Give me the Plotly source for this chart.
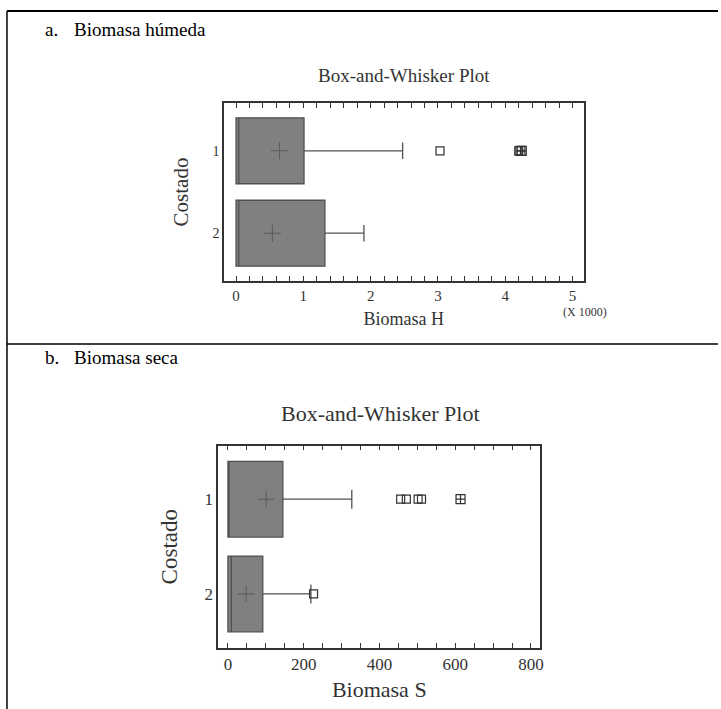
import plotly.graph_objects as go

W, H = 721, 709

# ---------------- data ----------------
categories = ["1", "2"]

# a. Biomasa húmeda (units: biomass, axis shown X 1000)
h_q1 = [0, 0]
h_median = [40, 40]
h_q3 = [1010, 1320]
h_lowerfence = [0, 0]
h_upperfence = [2475, 1900]
h_mean = [646, 540]
h_out_x = [3030, 4200]
h_out_cat = ["1", "1"]
h_far_x = [4225, 4245]
h_far_cat = ["1", "1"]

# b. Biomasa seca
s_q1 = [0, 0]
s_median = [0, 9]
s_q3 = [145, 92]
s_lowerfence = [0, 0]
s_upperfence = [327, 219]
s_mean = [101, 48]
s_out_x = [456, 471, 502, 511, 226]
s_out_cat = ["1", "1", "1", "1", "2"]
s_far_x = [614]
s_far_cat = ["1"]

FONT = "Liberation Serif"
BOXFILL = "#808080"
BOXLINE = "#505050"
DARK = "#333333"


def px(x):
    return x / W


def py(y):
    return 1 - y / H


fig = go.Figure()


def add_panel(xa, ya, q1, med, q3, lf, uf, mean, ox, oc, fx, fc):
    fig.add_trace(go.Box(
        y=categories, q1=q1, median=med, q3=q3, lowerfence=lf, upperfence=uf,
        orientation="h", width=0.8, whiskerwidth=0.25,
        fillcolor=BOXFILL, line=dict(color=BOXLINE, width=1.3),
        boxpoints=False, showlegend=False, xaxis=xa, yaxis=ya,
    ))
    fig.add_trace(go.Scatter(
        x=mean, y=categories, mode="markers", showlegend=False,
        marker=dict(symbol="cross-thin-open", size=12, color="#5a5a5a",
                    line=dict(color="#5a5a5a", width=1)),
        xaxis=xa, yaxis=ya,
    ))
    fig.add_trace(go.Scatter(
        x=ox, y=oc, mode="markers", showlegend=False,
        marker=dict(symbol="square-open", size=8, color=DARK,
                    line=dict(color=DARK, width=1.2)),
        xaxis=xa, yaxis=ya,
    ))
    fig.add_trace(go.Scatter(
        x=fx, y=fc, mode="markers", showlegend=False,
        marker=dict(symbol="square-cross-open", size=9, color=DARK,
                    line=dict(color=DARK, width=1.2)),
        xaxis=xa, yaxis=ya,
    ))


add_panel("x", "y", h_q1, h_median, h_q3, h_lowerfence, h_upperfence, h_mean,
          h_out_x, h_out_cat, h_far_x, h_far_cat)
add_panel("x2", "y2", s_q1, s_median, s_q3, s_lowerfence, s_upperfence, s_mean,
          s_out_x, s_out_cat, s_far_x, s_far_cat)

common_x = dict(
    showline=True, linecolor=DARK, linewidth=1.5, mirror="allticks",
    ticks="inside", ticklen=5, tickcolor=DARK, tickwidth=1.2,
    showgrid=False, zeroline=False,
    tickfont=dict(family=FONT, color=DARK),
)
common_y = dict(
    showline=True, linecolor=DARK, linewidth=1.5, mirror=True,
    ticks="", showgrid=False, zeroline=False, type="category",
    tickfont=dict(family=FONT, color=DARK),
)

fig.update_layout(
    width=W, height=H, margin=dict(l=0, r=0, t=0, b=0),
    paper_bgcolor="white", plot_bgcolor="white",
    xaxis=dict(**common_x, domain=[px(225), px(586)], anchor="y",
               range=[-178, 5163], tickvals=[0, 1000, 2000, 3000, 4000, 5000],
               ticktext=["0", "1", "2", "3", "4", "5"],
               minor=dict(dtick=200, ticks="inside", ticklen=5, tickcolor=DARK, tickwidth=1.2),
               tickfont_size=15, ticklabelstandoff=0,
               title=dict(text="Biomasa H", font=dict(family=FONT, size=18, color=DARK), standoff=10)),
    yaxis=dict(**common_y, domain=[py(281), py(103)], anchor="x",
               range=[1.58, -0.58], tickfont_size=14, ticklabelstandoff=0,
               title=dict(text="Costado", font=dict(family=FONT, size=21, color=DARK), standoff=18)),
    xaxis2=dict(**common_x, domain=[px(219), px(542.7)], anchor="y2",
                range=[-26, 825], tickvals=[0, 200, 400, 600, 800],
                minor=dict(dtick=50, ticks="inside", ticklen=5, tickcolor=DARK, tickwidth=1.2),
                tickfont_size=17, ticklabelstandoff=0,
                title=dict(text="Biomasa S", font=dict(family=FONT, size=22, color=DARK), standoff=9)),
    yaxis2=dict(**common_y, domain=[py(647.7), py(445.7)], anchor="x2",
                range=[1.568, -0.565], tickfont_size=17, ticklabelstandoff=0,
                title=dict(text="Costado", font=dict(family=FONT, size=23, color=DARK), standoff=20)),
)

annotations = [
    dict(text="a.", x=px(43), y=py(29), xanchor="left", yanchor="middle",
         font=dict(family=FONT, size=19, color="black")),
    dict(text="Biomasa húmeda", x=px(72), y=py(29), xanchor="left", yanchor="middle",
         font=dict(family=FONT, size=19, color="black")),
    dict(text="b.", x=px(43), y=py(357), xanchor="left", yanchor="middle",
         font=dict(family=FONT, size=19, color="black")),
    dict(text="Biomasa seca", x=px(72), y=py(357), xanchor="left", yanchor="middle",
         font=dict(family=FONT, size=19, color="black")),
    dict(text="Box-and-Whisker Plot", x=px(406), y=py(75), xanchor="center", yanchor="middle",
         font=dict(family=FONT, size=19, color=DARK)),
    dict(text="Box-and-Whisker Plot", x=px(382), y=py(413), xanchor="center", yanchor="middle",
         font=dict(family=FONT, size=22, color=DARK)),
    dict(text="(X 1000)", x=px(587), y=py(312), xanchor="center", yanchor="middle",
         font=dict(family=FONT, size=12, color=DARK)),
]
for a in annotations:
    a.update(xref="paper", yref="paper", showarrow=False)
fig.update_layout(annotations=annotations)

shapes = [
    dict(type="line", x0=px(7), x1=1, y0=py(11), y1=py(11), line=dict(color="black", width=2)),
    dict(type="line", x0=px(7), x1=px(7), y0=py(11), y1=0, line=dict(color="black", width=1.5)),
    dict(type="line", x0=px(7), x1=1, y0=py(344), y1=py(344), line=dict(color="black", width=1.5)),
]
for s in shapes:
    s.update(xref="paper", yref="paper")
fig.update_layout(shapes=shapes)

fig.write_html("out.html")
